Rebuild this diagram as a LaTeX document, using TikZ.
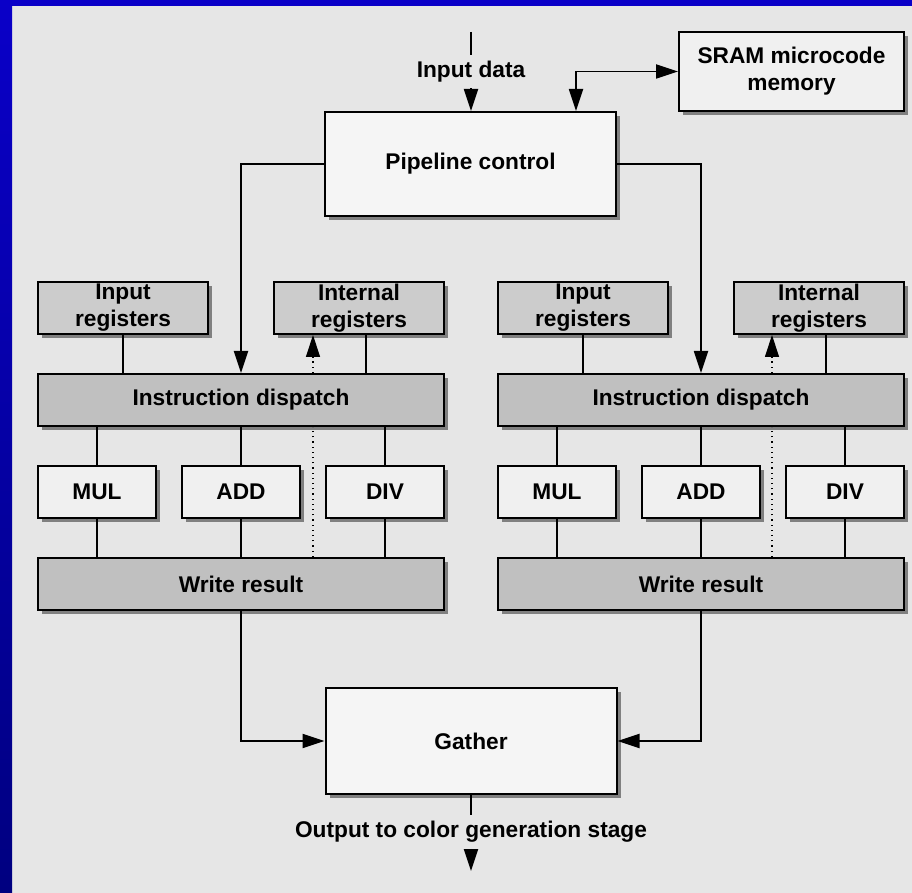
\documentclass[tikz,border=0pt]{standalone}
\usepackage{fontspec}
\setmainfont{Liberation Sans}
\usepackage{xcolor}
\usetikzlibrary{arrows.meta,calc,shadows}

\definecolor{pagebg}{RGB}{230,230,230}
\definecolor{topblue}{RGB}{10,0,200}
\definecolor{navyblue}{RGB}{0,0,128}
\definecolor{lightfill}{RGB}{245,245,245}
\definecolor{unitfill}{RGB}{240,240,240}
\definecolor{regfill}{RGB}{204,204,204}
\definecolor{stagefill}{RGB}{192,192,192}
\definecolor{shadowgray}{RGB}{128,128,128}

\begin{document}
\begin{tikzpicture}[x=0.5pt, y=-0.5pt, line width=0.9pt,
    font=\fontsize{11.35}{13.5}\selectfont\bfseries,
    >={Triangle[length=11pt,width=7pt]},
    blk/.style={draw, line width=1pt, align=center, inner sep=0pt,
        drop shadow={shadow xshift=2pt, shadow yshift=-2pt, fill=shadowgray, opacity=1}},
    ctrlbox/.style={blk, fill=lightfill, minimum width=145.5pt, minimum height=52pt},
    membox/.style={blk, fill=unitfill, minimum width=112.5pt, minimum height=39.5pt},
    regbox/.style={blk, fill=regfill, minimum width=85pt, minimum height=26pt},
    stagebox/.style={blk, fill=stagefill, minimum width=203pt, minimum height=26pt},
    unitbox/.style={blk, fill=unitfill, minimum width=59pt, minimum height=26pt},
    lbl/.style={inner sep=0pt, minimum height=16pt, fill=pagebg}]

    % frame
    \fill[pagebg] (0,0) rectangle (912,893);
    \fill[topblue] (0,0) rectangle (912,6);
    \shade[top color=topblue, bottom color=navyblue] (0,0) rectangle (12,893);

    % top
    \coordinate (intop) at (471,32);
    \node[lbl] (indata) at (471,71.5) {Input data};
    \node[ctrlbox] (pipe) at (470.5,164) {Pipeline control};
    \node[membox] (sram) at (791.5,71.5) {SRAM microcode\\memory};
    \draw (intop) -- (indata.north);
    \draw[->] (indata.south) -- (indata.south |- pipe.north);
    \draw[<->] ($(pipe.north)+(105.5,0)$) |- (sram.west);

    % left group
    \node[regbox] (inreg1) at (123,308) {Input\\registers};
    \node[regbox] (intreg1) at (359,308) {Internal\\registers};
    \node[stagebox] (disp1) at (241,400) {Instruction dispatch};
    \node[unitbox] (mul1) at (97,492) {MUL};
    \node[unitbox] (add1) at (241,492) {ADD};
    \node[unitbox] (div1) at (385,492) {DIV};
    \node[stagebox] (wres1) at (241,584) {Write result};
    \coordinate (ir1) at (366,0);
    \coordinate (fb1) at (313,0);

    % right group
    \node[regbox] (inreg2) at (583,308) {Input\\registers};
    \node[regbox] (intreg2) at (819,308) {Internal\\registers};
    \node[stagebox] (disp2) at (701,400) {Instruction dispatch};
    \node[unitbox] (mul2) at (557,492) {MUL};
    \node[unitbox] (add2) at (701,492) {ADD};
    \node[unitbox] (div2) at (845,492) {DIV};
    \node[stagebox] (wres2) at (701,584) {Write result};
    \coordinate (ir2) at (826,0);
    \coordinate (fb2) at (772,0);

    % bottom
    \node[ctrlbox, minimum height=53pt] (gather) at (471,741) {Gather};
    \node[lbl] (outtxt) at (471,832) {Output to color generation stage};
    \coordinate (outend) at (471,871);

    \draw[->] (pipe.west) -| (add1 |- disp1.north);
    \draw[->] (pipe.east) -| (add2 |- disp2.north);

    \draw (inreg1) -- (inreg1 |- disp1.north);
    \draw (intreg1.south -| ir1) -- (disp1.north -| ir1);
    \draw (mul1) -- (mul1 |- disp1.south);
    \draw (add1) -- (add1 |- disp1.south);
    \draw (div1) -- (div1 |- disp1.south);
    \draw (mul1) -- (mul1 |- wres1.north);
    \draw (add1) -- (add1 |- wres1.north);
    \draw (div1) -- (div1 |- wres1.north);
    \draw[dotted, line width=0.6pt] (wres1.north -| fb1) -- (disp1.south -| fb1);
    \draw[dotted, line width=0.6pt, ->] (disp1.north -| fb1) -- (intreg1.south -| fb1);

    \draw (inreg2) -- (inreg2 |- disp2.north);
    \draw (intreg2.south -| ir2) -- (disp2.north -| ir2);
    \draw (mul2) -- (mul2 |- disp2.south);
    \draw (add2) -- (add2 |- disp2.south);
    \draw (div2) -- (div2 |- disp2.south);
    \draw (mul2) -- (mul2 |- wres2.north);
    \draw (add2) -- (add2 |- wres2.north);
    \draw (div2) -- (div2 |- wres2.north);
    \draw[dotted, line width=0.6pt] (wres2.north -| fb2) -- (disp2.south -| fb2);
    \draw[dotted, line width=0.6pt, ->] (disp2.north -| fb2) -- (intreg2.south -| fb2);

    \draw[->] (wres1.south) |- (gather.west);
    \draw[->] (wres2.south) |- (gather.east);
    \draw (gather.south) -- (outtxt.north);
    \draw[->] (outtxt.south) -- (outend);
\end{tikzpicture}
\end{document}
